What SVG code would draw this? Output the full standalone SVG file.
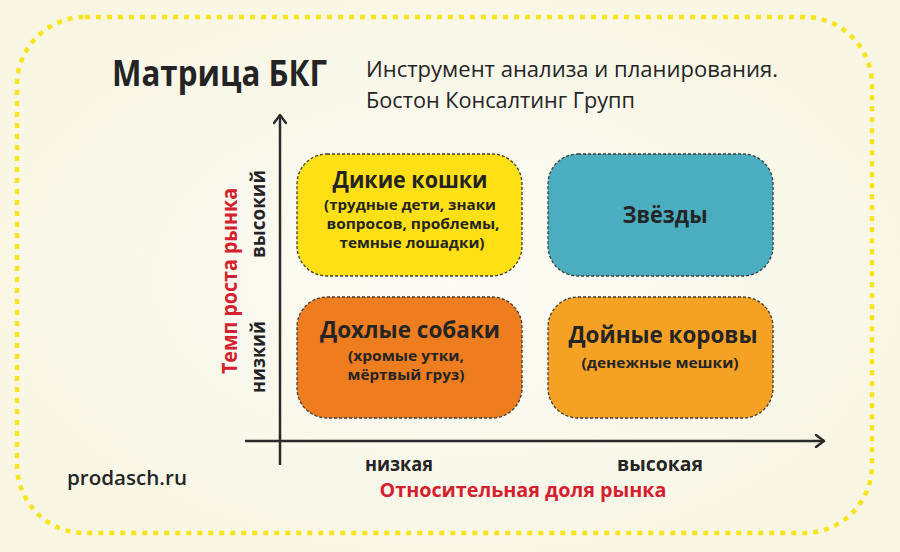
<svg xmlns="http://www.w3.org/2000/svg" width="900" height="552" viewBox="0 0 900 552">
  <defs>
    <radialGradient id="bg" cx="50%" cy="50%" r="65%">
      <stop offset="0" stop-color="#FDFCF5"/>
      <stop offset="1" stop-color="#F8F5E2"/>
    </radialGradient>
    <marker id="arr" viewBox="0 0 12 14" refX="10" refY="7" markerWidth="12" markerHeight="14" markerUnits="userSpaceOnUse" orient="auto">
      <path d="M2 1 L10 7 L2 13" fill="none" stroke="#2b2b2b" stroke-width="2.4" stroke-linecap="round" stroke-linejoin="round"/>
    </marker>
    <style>
      .frame { fill: none; stroke: #F7E41A; stroke-width: 4.5; stroke-dasharray: 5 6; }
      .box { stroke: #3a3a3a; stroke-width: 1.3; stroke-dasharray: 3 2; }
      .axis { stroke: #2b2b2b; stroke-width: 2.5; fill: none; }
      .t { font-family: "Open Sans", "Noto Sans", "DejaVu Sans", sans-serif; fill: #242424; }
      .b { font-weight: 700; }
      .head { font-size: 23px; text-anchor: middle; }
      .sub { font-size: 15px; text-anchor: middle; }
      .red { fill: #D4202F; font-weight: 700; }
    </style>
  </defs>

  <rect x="0" y="0" width="900" height="552" fill="url(#bg)"/>
  <rect class="frame" x="17" y="17" width="855" height="516" rx="68" ry="68"/>

  <g id="title">
    <text class="t b" x="112" y="86" font-size="36" textLength="215" lengthAdjust="spacingAndGlyphs">Матрица БКГ</text>
    <text class="t" x="366" y="77" font-size="21" textLength="412" lengthAdjust="spacingAndGlyphs">Инструмент анализа и планирования.</text>
    <text class="t" x="366" y="108" font-size="21" textLength="269" lengthAdjust="spacingAndGlyphs">Бостон Консалтинг Групп</text>
  </g>

  <g id="connectors">
    <line class="axis" x1="280" y1="465" x2="280" y2="115" marker-end="url(#arr)"/>
    <line class="axis" x1="245" y1="441" x2="824" y2="441" marker-end="url(#arr)"/>
  </g>

  <g id="wildcats">
    <rect class="box" x="297" y="154" width="225" height="122" rx="30" fill="#FEE014"/>
    <text class="t b head" x="410" y="188" textLength="155" lengthAdjust="spacingAndGlyphs">Дикие кошки</text>
    <text class="t b sub" x="410" y="210" textLength="172" lengthAdjust="spacingAndGlyphs">(трудные дети, знаки</text>
    <text class="t b sub" x="413" y="229" textLength="173" lengthAdjust="spacingAndGlyphs">вопросов, проблемы,</text>
    <text class="t b sub" x="412" y="248" textLength="145" lengthAdjust="spacingAndGlyphs">темные лошадки)</text>
  </g>

  <g id="stars">
    <rect class="box" x="548" y="154" width="225" height="122" rx="30" fill="#4AAEC0"/>
    <text class="t b head" x="665" y="223" textLength="85" lengthAdjust="spacingAndGlyphs">Звёзды</text>
  </g>

  <g id="dogs">
    <rect class="box" x="297" y="297" width="225" height="121" rx="30" fill="#EE7D1F"/>
    <text class="t b head" x="410" y="338" textLength="180" lengthAdjust="spacingAndGlyphs">Дохлые собаки</text>
    <text class="t b sub" x="406" y="361" textLength="116" lengthAdjust="spacingAndGlyphs">(хромые утки,</text>
    <text class="t b sub" x="406" y="380" textLength="117" lengthAdjust="spacingAndGlyphs">мёртвый груз)</text>
  </g>

  <g id="cows">
    <rect class="box" x="548" y="297" width="225" height="121" rx="30" fill="#F5A124"/>
    <text class="t b head" x="663" y="343" textLength="189" lengthAdjust="spacingAndGlyphs">Дойные коровы</text>
    <text class="t b sub" x="660" y="368" textLength="157" lengthAdjust="spacingAndGlyphs">(денежные мешки)</text>
  </g>

  <g id="axis-labels">
    <text class="t b" transform="translate(265,214) rotate(-90)" font-size="19" text-anchor="middle" textLength="88" lengthAdjust="spacingAndGlyphs">высокий</text>
    <text class="t b" transform="translate(265,357) rotate(-90)" font-size="19" text-anchor="middle" textLength="72" lengthAdjust="spacingAndGlyphs">низкий</text>
    <text class="t red" transform="translate(237,281) rotate(-90)" font-size="21" text-anchor="middle" textLength="186" lengthAdjust="spacingAndGlyphs">Темп роста рынка</text>
    <text class="t b" x="399" y="471" font-size="19" text-anchor="middle" textLength="68" lengthAdjust="spacingAndGlyphs">низкая</text>
    <text class="t b" x="660" y="471" font-size="19" text-anchor="middle" textLength="86" lengthAdjust="spacingAndGlyphs">высокая</text>
    <text class="t red" x="523" y="497" font-size="20" text-anchor="middle" textLength="287" lengthAdjust="spacingAndGlyphs">Относительная доля рынка</text>
  </g>

  <g id="site">
    <text class="t" x="67" y="485" font-size="20" font-weight="600" fill="#3a3a3a" textLength="120" lengthAdjust="spacingAndGlyphs">prodasch.ru</text>
  </g>
</svg>
